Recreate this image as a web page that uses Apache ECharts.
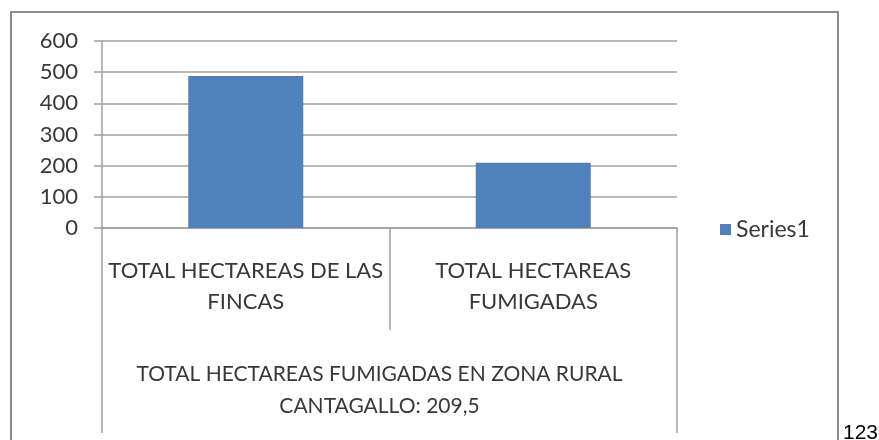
<!DOCTYPE html>
<html>
<head>
<meta charset="utf-8">
<script src="https://cdn.jsdelivr.net/npm/echarts@6/dist/echarts.min.js"></script>
<style>
  html, body { margin: 0; padding: 0; background: #fff; }
  #chart { width: 879px; height: 440px; }
</style>
</head>
<body>
<div id="chart"></div>
<script>
// datos
var categorias = ['TOTAL HECTAREAS DE LAS\nFINCAS', 'TOTAL HECTAREAS\nFUMIGADAS'];
var grupo = ['TOTAL HECTAREAS FUMIGADAS EN ZONA RURAL\nCANTAGALLO: 209,5'];
var series1 = [488, 209.5];
var nombreSerie = 'Series1';
var notaPagina = '123';

var gris = '#a0a0a0';
var texto = '#383838';
var fuente = 'Lato';

var myChart = echarts.init(document.getElementById('chart'));
var option = {
    backgroundColor: '#fff',
    animation: false,
    grid: {
        left: 102,
        right: 202,
        top: 41,
        bottom: 212
    },
    legend: {
        left: 720,
        top: 218,
        padding: 0,
        icon: 'rect',
        itemWidth: 11,
        itemHeight: 11,
        data: [nombreSerie],
        textStyle: { color: texto, fontFamily: fuente, fontSize: 23, lineHeight: 22 }
    },
    xAxis: [
        {
            type: 'category',
            data: categorias,
            boundaryGap: true,
            axisLine: { show: true, lineStyle: { color: gris, width: 1.5 } },
            axisTick: { show: true, interval: 0, length: 102, lineStyle: { color: gris, width: 1.5 } },
            axisLabel: {
                interval: 0,
                margin: 27,
                color: texto,
                fontFamily: fuente,
                fontSize: 22,
                lineHeight: 31
            }
        },
        {
            // segundo nivel de categorias
            type: 'category',
            data: grupo,
            position: 'bottom',
            boundaryGap: true,
            axisLine: { show: false },
            axisTick: { show: true, interval: 0, length: 205, lineStyle: { color: gris, width: 1.5 } },
            axisLabel: {
                interval: 0,
                margin: 130,
                color: texto,
                fontFamily: fuente,
                fontSize: 21,
                lineHeight: 32,
                padding: [0, 20, 0, 0]
            }
        }
    ],
    yAxis: {
        type: 'value',
        min: 0,
        max: 600,
        interval: 100,
        axisLine: { show: true, lineStyle: { color: gris, width: 1.5 } },
        axisTick: { show: true, length: 8, lineStyle: { color: gris, width: 1.5 } },
        axisLabel: { margin: 24, color: texto, fontFamily: fuente, fontSize: 22 },
        splitLine: { lineStyle: { color: gris, width: 1.5 } }
    },
    series: [
        {
            name: nombreSerie,
            type: 'bar',
            xAxisIndex: 0,
            data: series1,
            barWidth: '40%',
            itemStyle: { color: '#4f81bd' }
        }
    ],
    graphic: [
        {
            type: 'rect',
            z: -1,
            shape: { x: 11, y: 12, width: 827, height: 440 },
            style: { fill: null, stroke: '#8c8c8c', lineWidth: 2 }
        },
        {
            type: 'text',
            left: 843,
            top: 423,
            style: {
                text: notaPagina,
                fill: '#000',
                font: '21px "Liberation Sans", Arial, sans-serif'
            }
        }
    ]
};
myChart.setOption(option);
</script>
</body>
</html>
